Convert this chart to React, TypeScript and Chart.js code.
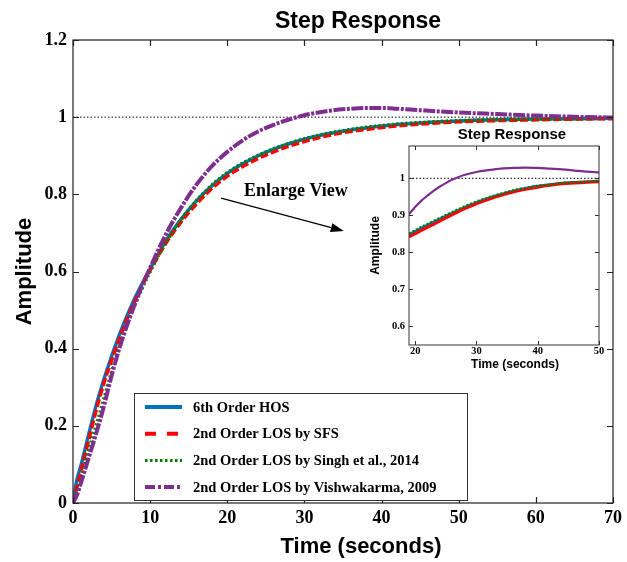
import React, { useEffect, useRef } from "react";
import { Chart, registerables } from "chart.js";

Chart.register(...registerables);

// ---------- data ----------
const seriesNames = [
  "6th Order HOS",
  "2nd Order LOS by SFS",
  "2nd Order LOS by Singh et al., 2014",
  "2nd Order LOS by Vishwakarma, 2009",
];

const timeMain = [0, 0.5, 1, 2, 3, 4, 5, 6, 7, 8, 9, 10, 12, 14, 16, 18, 20, 22, 24, 26, 28, 30, 33, 36, 38, 40, 42, 45, 50, 55, 60, 65, 70];
const hosMain = [0, 0.06, 0.095, 0.175, 0.253, 0.32, 0.38, 0.435, 0.485, 0.53, 0.57, 0.607, 0.678, 0.735, 0.783, 0.822, 0.854, 0.879, 0.9, 0.917, 0.931, 0.943, 0.957, 0.967, 0.972, 0.977, 0.981, 0.985, 0.99, 0.993, 0.995, 0.996, 0.997];
const sfsMain = [0, 0.04, 0.08, 0.16, 0.24, 0.31, 0.37, 0.425, 0.477, 0.523, 0.565, 0.603, 0.672, 0.728, 0.775, 0.815, 0.847, 0.872, 0.893, 0.91, 0.925, 0.937, 0.952, 0.963, 0.968, 0.973, 0.977, 0.982, 0.988, 0.991, 0.993, 0.995, 0.996];
const singhMain = [0, 0.025, 0.06, 0.135, 0.2, 0.27, 0.34, 0.405, 0.462, 0.513, 0.558, 0.6, 0.674, 0.734, 0.784, 0.824, 0.856, 0.881, 0.901, 0.918, 0.932, 0.944, 0.958, 0.968, 0.974, 0.978, 0.982, 0.986, 0.991, 0.994, 0.995, 0.996, 0.997];
const vishMain = [0, 0.02, 0.05, 0.115, 0.18, 0.25, 0.33, 0.4, 0.46, 0.515, 0.565, 0.61, 0.695, 0.765, 0.825, 0.873, 0.91, 0.94, 0.963, 0.98, 0.994, 1.005, 1.016, 1.022, 1.024, 1.024, 1.022, 1.018, 1.012, 1.008, 1.004, 1.001, 0.999];

const timeInset = [19, 20, 21, 22, 23, 24, 25, 26, 27, 28, 30, 32, 34, 36, 38, 40, 42, 44, 46, 48, 50];
const hosInset = [0.848, 0.857, 0.866, 0.874, 0.882, 0.89, 0.898, 0.906, 0.914, 0.921, 0.935, 0.947, 0.957, 0.966, 0.973, 0.979, 0.983, 0.987, 0.989, 0.991, 0.993];
const sfsInset = [0.841, 0.85, 0.859, 0.867, 0.875, 0.884, 0.893, 0.901, 0.909, 0.917, 0.931, 0.943, 0.954, 0.963, 0.97, 0.976, 0.981, 0.985, 0.987, 0.989, 0.991];
const singhInset = [0.85, 0.859, 0.868, 0.876, 0.884, 0.892, 0.9, 0.908, 0.916, 0.923, 0.937, 0.948, 0.958, 0.967, 0.974, 0.979, 0.983, 0.987, 0.989, 0.991, 0.993];
const vishInset = [0.903, 0.922, 0.939, 0.953, 0.966, 0.977, 0.987, 0.996, 1.003, 1.009, 1.017, 1.022, 1.026, 1.028, 1.029, 1.028, 1.026, 1.024, 1.021, 1.018, 1.016];

const refMainX = [0, 70];
const refInsetX = [19, 50];
const refLevel = [1, 1];

const mainXTicks = [0, 10, 20, 30, 40, 50, 60, 70];
const mainYTicks = [0, 0.2, 0.4, 0.6, 0.8, 1, 1.2];
const insetXTicks = [20, 30, 40, 50];
const insetYTicks = [0.6, 0.7, 0.8, 0.9, 1];

const mainRange = { xMin: 0, xMax: 70, yMin: 0, yMax: 1.2 };
const insetRange = { xMin: 19, xMax: 50, yMin: 0.5485, yMax: 1.0875 };

const chartTitle = "Step Response";
const xTitle = "Time (seconds)";
const yTitle = "Amplitude";
const enlargeText = "Enlarge View";
const enlargeAt = { t: 28.9, v: 0.808 };
const arrowFrom = { t: 19.2, v: 0.79 };
const arrowTo = { t: 35.1, v: 0.705 };

// ---------- styles ----------
const BLUE = "#0072BD";
const RED = "#FF0000";
const GREEN = "#008000";
const PURPLE = "#7E2F8E";
const SERIF = "'Liberation Serif', 'Times New Roman', serif";
const SANS = "'Liberation Sans', Arial, sans-serif";

const pts = (xs: number[], ys: number[]) => xs.map((x, i) => ({ x, y: ys[i] }));
const fmt = (v: number) => String(Math.round(v * 10) / 10);

function frameTicks(len: number, lw: number, color: string) {
  return {
    id: "frameTicks",
    afterDatasetsDraw(chart: any) {
      const { ctx, chartArea: a, scales } = chart;
      const x = scales.x, y = scales.y;
      ctx.save();
      ctx.strokeStyle = color;
      ctx.lineWidth = lw;
      ctx.setLineDash([]);
      ctx.beginPath();
      x.ticks.forEach((t: any) => {
        const px = Math.round(x.getPixelForValue(t.value)) + 0.5;
        ctx.moveTo(px, a.bottom); ctx.lineTo(px, a.bottom - len);
        ctx.moveTo(px, a.top); ctx.lineTo(px, a.top + len);
      });
      y.ticks.forEach((t: any) => {
        const py = Math.round(y.getPixelForValue(t.value)) + 0.5;
        ctx.moveTo(a.left, py); ctx.lineTo(a.left + len, py);
        ctx.moveTo(a.right, py); ctx.lineTo(a.right - len, py);
      });
      ctx.stroke();
      ctx.strokeRect(a.left, a.top, a.right - a.left, a.bottom - a.top);
      ctx.restore();
    },
  };
}

const legendDash = [[], [11, 11], [2.5, 2.5], [10, 3, 3, 3]];

const mainDecor = {
  id: "mainDecor",
  afterDatasetsDraw(chart: any) {
    const { ctx, scales: { x, y } } = chart;
    ctx.save();
    ctx.fillStyle = "#000";
    ctx.font = `bold 18px ${SERIF}`;
    ctx.textAlign = "center";
    ctx.textBaseline = "middle";
    ctx.fillText(enlargeText, x.getPixelForValue(enlargeAt.t), y.getPixelForValue(enlargeAt.v));
    const x0 = x.getPixelForValue(arrowFrom.t), y0 = y.getPixelForValue(arrowFrom.v);
    const x1 = x.getPixelForValue(arrowTo.t), y1 = y.getPixelForValue(arrowTo.v);
    const ang = Math.atan2(y1 - y0, x1 - x0);
    const hl = 13, hw = 4.5;
    ctx.strokeStyle = "#000";
    ctx.lineWidth = 1.2;
    ctx.beginPath();
    ctx.moveTo(x0, y0);
    ctx.lineTo(x1 - hl * Math.cos(ang), y1 - hl * Math.sin(ang));
    ctx.stroke();
    ctx.beginPath();
    ctx.moveTo(x1, y1);
    ctx.lineTo(x1 - hl * Math.cos(ang) + hw * Math.sin(ang), y1 - hl * Math.sin(ang) - hw * Math.cos(ang));
    ctx.lineTo(x1 - hl * Math.cos(ang) - hw * Math.sin(ang), y1 - hl * Math.sin(ang) + hw * Math.cos(ang));
    ctx.closePath();
    ctx.fill();
    ctx.restore();
  },
  afterDraw(chart: any) {
    const { ctx, chartArea: a } = chart;
    ctx.save();
    ctx.fillStyle = "#000";
    ctx.font = `bold 23px ${SANS}`;
    ctx.textAlign = "center";
    ctx.textBaseline = "alphabetic";
    ctx.fillText(chartTitle, a.left + 285, 28);
    ctx.font = `bold 22px ${SANS}`;
    ctx.textBaseline = "middle";
    ctx.fillText(xTitle, a.left + 288, 547);
    ctx.save();
    ctx.translate(25, (a.top + a.bottom) / 2);
    ctx.rotate(-Math.PI / 2);
    ctx.fillText(yTitle, 0, 0);
    ctx.restore();
    const left = a.left + 61, right = a.left + 394, top = a.bottom - 110, bottom = a.bottom - 3;
    ctx.fillStyle = "#fff";
    ctx.fillRect(left, top, right - left, bottom - top);
    ctx.strokeStyle = "#333";
    ctx.lineWidth = 1;
    ctx.strokeRect(left + 0.5, top + 0.5, right - left, bottom - top);
    chart.data.datasets.slice(0, seriesNames.length).forEach((ds: any, i: number) => {
      const yy = top + 14 + i * 26.7;
      ctx.beginPath();
      ctx.setLineDash(legendDash[i]);
      ctx.strokeStyle = ds.borderColor;
      ctx.lineWidth = i === 2 ? 3 : 4;
      ctx.moveTo(left + 11, yy);
      ctx.lineTo(left + 48, yy);
      ctx.stroke();
      ctx.setLineDash([]);
      ctx.fillStyle = "#000";
      ctx.font = `bold 14.5px ${SERIF}`;
      ctx.textAlign = "left";
      ctx.textBaseline = "middle";
      ctx.fillText(ds.label, left + 59, yy + 1);
    });
    ctx.restore();
  },
};

const insetDecor = {
  id: "insetDecor",
  afterDraw(chart: any) {
    const { ctx, chartArea: a } = chart;
    ctx.save();
    ctx.fillStyle = "#000";
    ctx.textAlign = "center";
    ctx.textBaseline = "middle";
    ctx.font = `bold 15px ${SANS}`;
    ctx.fillText(chartTitle, a.left + 103, a.top - 11);
    ctx.font = `bold 12px ${SANS}`;
    ctx.fillText(xTitle, a.left + 106, a.bottom + 20);
    ctx.save();
    ctx.translate(16, (a.top + a.bottom) / 2);
    ctx.rotate(-Math.PI / 2);
    ctx.fillText(yTitle, 0, 0);
    ctx.restore();
    ctx.restore();
  },
};

const lineBase = {
  pointRadius: 0,
  pointHoverRadius: 0,
  fill: false,
  cubicInterpolationMode: "monotone" as const,
  borderCapStyle: "butt" as const,
};

export default function App() {
  const mainRef = useRef<HTMLCanvasElement>(null);
  const insetRef = useRef<HTMLCanvasElement>(null);

  useEffect(() => {
    document.body.style.margin = "0";
    const tickFontMain = { family: SERIF, weight: "bold" as const, size: 18 };
    const tickFontInset = { family: SERIF, weight: "bold" as const, size: 10.5, lineHeight: 1 };

    const main = new Chart(mainRef.current!, {
      type: "line",
      data: {
        datasets: [
          { ...lineBase, label: seriesNames[0], data: pts(timeMain, hosMain), borderColor: BLUE, borderWidth: 3.5, borderDash: [], order: 4 },
          { ...lineBase, label: seriesNames[1], data: pts(timeMain, sfsMain), borderColor: RED, borderWidth: 3.5, borderDash: [8, 3], order: 3 },
          { ...lineBase, label: seriesNames[2], data: pts(timeMain, singhMain), borderColor: GREEN, borderWidth: 3.5, borderDash: [2, 2.5], order: 2 },
          { ...lineBase, label: seriesNames[3], data: pts(timeMain, vishMain), borderColor: PURPLE, borderWidth: 4, borderDash: [12, 1.5, 3, 1.5], order: 1 },
          { ...lineBase, label: "ref", data: pts(refMainX, refLevel), borderColor: "#000", borderWidth: 1, borderDash: [1.5, 2], order: 5, cubicInterpolationMode: "default" as const },
        ],
      },
      options: {
        responsive: false,
        devicePixelRatio: 1,
        animation: false,
        layout: { padding: { top: 40, right: 11, bottom: 0, left: 0 } },
        plugins: { legend: { display: false }, tooltip: { enabled: false }, title: { display: false } },
        scales: {
          x: {
            type: "linear",
            min: mainRange.xMin,
            max: mainRange.xMax,
            afterBuildTicks: (s: any) => { s.ticks = mainXTicks.map((v) => ({ value: v })); },
            afterFit: (s: any) => { s.height = 59; },
            grid: { display: false, drawTicks: false },
            border: { display: false },
            ticks: { font: tickFontMain, color: "#000", padding: 5, maxRotation: 0, autoSkip: false, callback: (v: any) => fmt(v) },
          },
          y: {
            type: "linear",
            min: mainRange.yMin,
            max: mainRange.yMax,
            afterBuildTicks: (s: any) => { s.ticks = mainYTicks.map((v) => ({ value: v })); },
            afterFit: (s: any) => { s.width = 73; },
            grid: { display: false, drawTicks: false },
            border: { display: false },
            ticks: { font: tickFontMain, color: "#000", padding: 6, autoSkip: false, callback: (v: any) => fmt(v) },
          },
        },
      },
      plugins: [frameTicks(6, 1.2, "#222"), mainDecor],
    } as any);

    const inset = new Chart(insetRef.current!, {
      type: "line",
      data: {
        datasets: [
          { ...lineBase, label: seriesNames[0], data: pts(timeInset, hosInset), borderColor: BLUE, borderWidth: 2.5, borderDash: [], order: 4 },
          { ...lineBase, label: seriesNames[1], data: pts(timeInset, sfsInset), borderColor: RED, borderWidth: 3, borderDash: [], order: 3 },
          { ...lineBase, label: seriesNames[2], data: pts(timeInset, singhInset), borderColor: GREEN, borderWidth: 2.5, borderDash: [2, 2], order: 2 },
          { ...lineBase, label: seriesNames[3], data: pts(timeInset, vishInset), borderColor: PURPLE, borderWidth: 2.2, borderDash: [], order: 1 },
          { ...lineBase, label: "ref", data: pts(refInsetX, refLevel), borderColor: "#000", borderWidth: 1, borderDash: [1.5, 2], order: 5, cubicInterpolationMode: "default" as const },
        ],
      },
      options: {
        responsive: false,
        devicePixelRatio: 1,
        animation: false,
        layout: { padding: { top: 24, right: 11, bottom: 0, left: 0 } },
        plugins: { legend: { display: false }, tooltip: { enabled: false }, title: { display: false } },
        scales: {
          x: {
            type: "linear",
            min: insetRange.xMin,
            max: insetRange.xMax,
            afterBuildTicks: (s: any) => { s.ticks = insetXTicks.map((v) => ({ value: v })); },
            afterFit: (s: any) => { s.height = 32; },
            grid: { display: false, drawTicks: false },
            border: { display: false },
            ticks: { font: tickFontInset, color: "#000", padding: 1, maxRotation: 0, autoSkip: false, callback: (v: any) => fmt(v) },
          },
          y: {
            type: "linear",
            min: insetRange.yMin,
            max: insetRange.yMax,
            afterBuildTicks: (s: any) => { s.ticks = insetYTicks.map((v) => ({ value: v })); },
            afterFit: (s: any) => { s.width = 49; },
            grid: { display: false, drawTicks: false },
            border: { display: false },
            ticks: { font: tickFontInset, color: "#000", padding: 4, autoSkip: false, callback: (v: any) => fmt(v) },
          },
        },
      },
      plugins: [frameTicks(4, 1, "#333"), insetDecor],
    } as any);

    return () => {
      main.destroy();
      inset.destroy();
    };
  }, []);

  return (
    <div style={{ position: "relative", width: 627, height: 562, background: "#fff" }}>
      <canvas ref={mainRef} width={627} height={562} style={{ position: "absolute", left: 0, top: 0, width: 627, height: 562 }} />
      <canvas ref={insetRef} width={250} height={255} style={{ position: "absolute", left: 360, top: 122, width: 250, height: 255 }} />
    </div>
  );
}
